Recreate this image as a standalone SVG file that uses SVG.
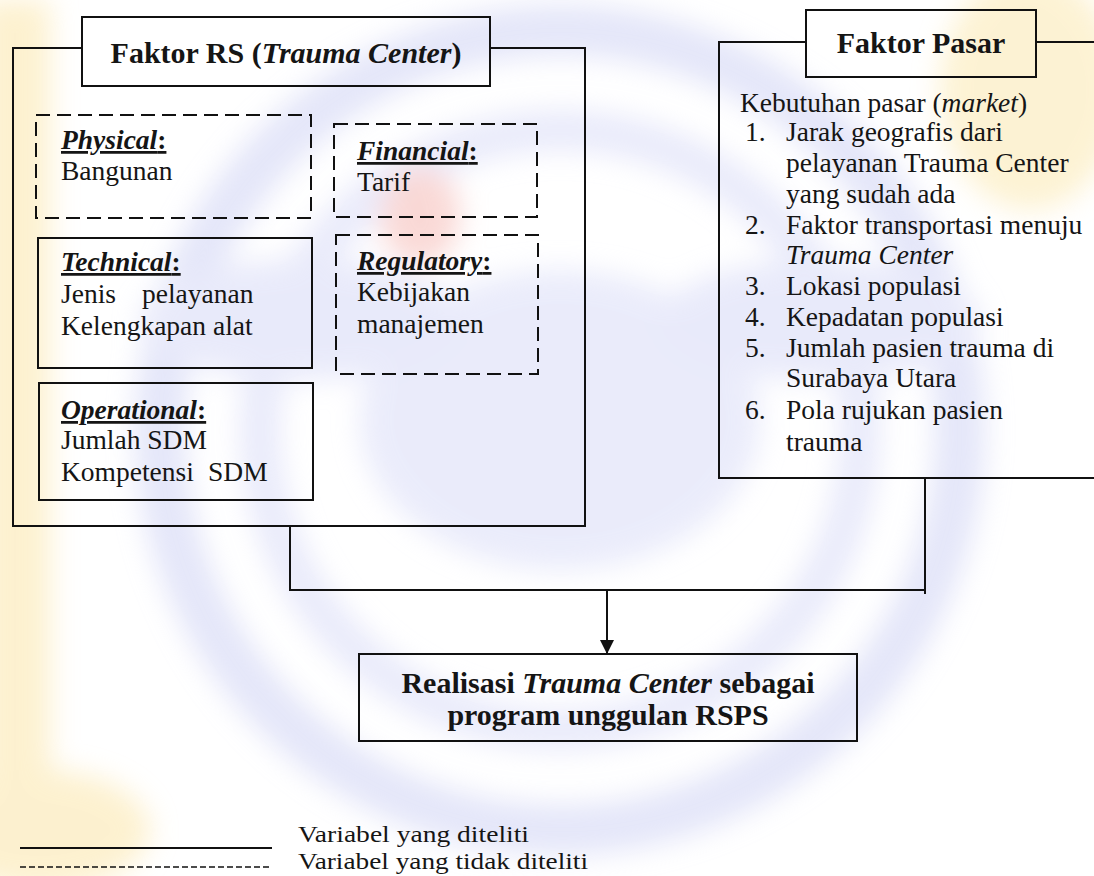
<svg xmlns="http://www.w3.org/2000/svg" width="1094" height="876" viewBox="0 0 1094 876">
  <defs>
    <filter id="soft" x="-20%" y="-20%" width="140%" height="140%">
      <feGaussianBlur stdDeviation="14"/>
    </filter>
    <marker id="arrow" viewBox="0 0 10 10" refX="10" refY="5" markerWidth="14" markerHeight="14" markerUnits="userSpaceOnUse" orient="auto">
      <path d="M0,0 L10,5 L0,10 Z" fill="#111"/>
    </marker>
    <style>
      .ln { fill: none; stroke: #111; stroke-width: 2; }
      .dash { fill: none; stroke: #111; stroke-width: 2; stroke-dasharray: 14 7; }
      .box { fill: none; stroke: #111; stroke-width: 2; }
      .title { fill: none; stroke: #111; stroke-width: 2; }
      text { font-family: "Liberation Serif", "Times New Roman", serif; fill: #151515; }
      .t { font-size: 27.5px; }
      .h { font-size: 30px; font-weight: bold; }
      .lab { font-size: 27.5px; font-weight: bold; font-style: italic; text-decoration: underline; }
      .lab tspan.c { font-style: normal; }
      .lg { font-size: 24px; }
    </style>
  </defs>

  <!-- paper with faint emblem watermark -->
  <rect x="0" y="0" width="1094" height="876" fill="#ffffff"/>
  <g id="watermark" filter="url(#soft)" opacity="0.5">
    <rect x="-20" y="0" width="70" height="876" fill="#fbe3a0"/>
    <ellipse cx="40" cy="830" rx="110" ry="60" fill="#fbe3a0"/>
    <ellipse cx="1030" cy="90" rx="90" ry="120" fill="#fbe6a8"/>
    <circle cx="560" cy="430" r="400" fill="none" stroke="#c9cdf3" stroke-width="50"/>
    <circle cx="560" cy="430" r="300" fill="none" stroke="#d3d6f6" stroke-width="40"/>
    <ellipse cx="560" cy="420" rx="200" ry="150" fill="#d6d9f7"/>
    <ellipse cx="300" cy="320" rx="160" ry="60" fill="#d3d6f6"/>
    <ellipse cx="820" cy="320" rx="160" ry="60" fill="#d3d6f6"/>
    <ellipse cx="420" cy="215" rx="40" ry="50" fill="#f4b3ad"/>
  </g>

  <!-- connectors -->
  <g id="connectors">
    <polyline class="ln" points="290,526 290,590 925,590"/>
    <polyline class="ln" points="925,478 925,594"/>
    <line class="ln" x1="607" y1="590" x2="607" y2="654" marker-end="url(#arrow)"/>
  </g>

  <!-- left group: hospital factors -->
  <g id="faktor-rs">
    <polyline class="ln" points="82,48 13,48 13,526 585,526 585,48 490,48"/>
    <rect class="title" x="82" y="17" width="408" height="69"/>
    <text class="h" x="286" y="63" text-anchor="middle">Faktor RS (<tspan font-style="italic">Trauma Center</tspan>)</text>
  </g>

  <g id="physical">
    <rect class="dash" x="36" y="115" width="275" height="103"/>
    <text class="lab" x="61" y="149">Physical<tspan class="c">:</tspan></text>
    <text class="t" x="61" y="180">Bangunan</text>
  </g>

  <g id="financial">
    <rect class="dash" x="334" y="124" width="203" height="93"/>
    <text class="lab" x="357" y="160">Financial<tspan class="c">:</tspan></text>
    <text class="t" x="357" y="191">Tarif</text>
  </g>

  <g id="technical">
    <rect class="box" x="38" y="238" width="274" height="130"/>
    <text class="lab" x="61" y="271">Technical<tspan class="c">:</tspan></text>
    <text class="t" x="61" y="303">Jenis<tspan x="142">pelayanan</tspan></text>
    <text class="t" x="61" y="335">Kelengkapan alat</text>
  </g>

  <g id="regulatory">
    <rect class="dash" x="336" y="235" width="202" height="139"/>
    <text class="lab" x="357" y="270">Regulatory<tspan class="c">:</tspan></text>
    <text class="t" x="357" y="301">Kebijakan</text>
    <text class="t" x="357" y="333">manajemen</text>
  </g>

  <g id="operational">
    <rect class="box" x="39" y="383" width="274" height="117"/>
    <text class="lab" x="61" y="419">Operational<tspan class="c">:</tspan></text>
    <text class="t" x="61" y="449">Jumlah SDM</text>
    <text class="t" x="61" y="481">Kompetensi<tspan x="208">SDM</tspan></text>
  </g>

  <!-- right group: market factors -->
  <g id="faktor-pasar">
    <polyline class="ln" points="806,42 719,42 719,478 1094,478"/>
    <line class="ln" x1="1036" y1="42" x2="1094" y2="42"/>
    <rect class="title" x="806" y="10" width="230" height="67"/>
    <text class="h" x="921" y="53" text-anchor="middle">Faktor Pasar</text>
    <text class="t" x="740" y="112">Kebutuhan pasar (<tspan font-style="italic">market</tspan>)</text>
    <text class="t" x="745" y="141">1.</text>
    <text class="t" x="786" y="141">Jarak geografis dari</text>
    <text class="t" x="786" y="172">pelayanan Trauma Center</text>
    <text class="t" x="786" y="203">yang sudah ada</text>
    <text class="t" x="745" y="234">2.</text>
    <text class="t" x="786" y="234">Faktor transportasi menuju</text>
    <text class="t" x="786" y="264" font-style="italic">Trauma Center</text>
    <text class="t" x="745" y="295">3.</text>
    <text class="t" x="786" y="295">Lokasi populasi</text>
    <text class="t" x="745" y="326">4.</text>
    <text class="t" x="786" y="326">Kepadatan populasi</text>
    <text class="t" x="745" y="357">5.</text>
    <text class="t" x="786" y="357">Jumlah pasien trauma di</text>
    <text class="t" x="786" y="387">Surabaya Utara</text>
    <text class="t" x="745" y="419">6.</text>
    <text class="t" x="786" y="419">Pola rujukan pasien</text>
    <text class="t" x="786" y="451">trauma</text>
  </g>

  <!-- outcome -->
  <g id="realisasi">
    <rect class="box" x="359" y="654" width="498" height="87"/>
    <text class="h" x="608" y="693" text-anchor="middle">Realisasi <tspan font-style="italic">Trauma Center</tspan> sebagai</text>
    <text class="h" x="608" y="725" text-anchor="middle">program unggulan RSPS</text>
  </g>

  <!-- legend -->
  <g id="legend">
    <line class="ln" x1="20" y1="848" x2="272" y2="848"/>
    <line x1="20" y1="867" x2="272" y2="867" stroke="#111" stroke-width="1.5" stroke-dasharray="6 3"/>
    <text class="lg" x="298" y="842" textLength="231" lengthAdjust="spacingAndGlyphs">Variabel yang diteliti</text>
    <text class="lg" x="298" y="869" textLength="290" lengthAdjust="spacingAndGlyphs">Variabel yang tidak diteliti</text>
  </g>
</svg>
